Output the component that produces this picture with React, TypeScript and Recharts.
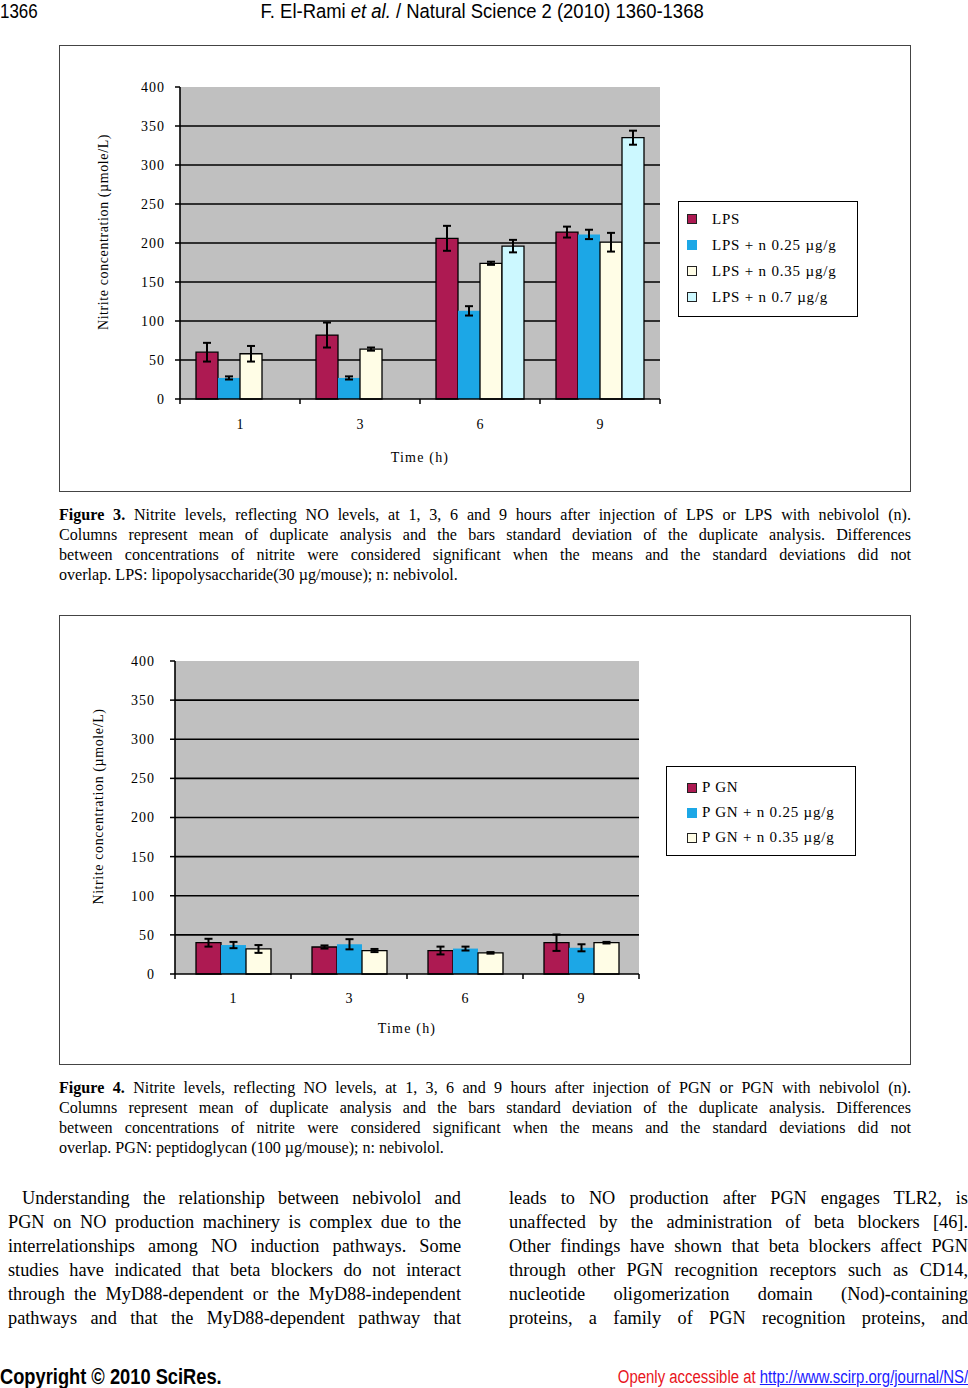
import React from "react";
import { BarChart, Bar, XAxis, YAxis, CartesianGrid, ErrorBar, Legend } from "recharts";

const times = ["1", "3", "6", "9"];
const yTicks = [0, 50, 100, 150, 200, 250, 300, 350, 400];
const gridLines = [50, 100, 150, 200, 250, 300, 350];

// Figure 3: LPS alone or with nebivolol
const lps = [60, 82, 206, 214];
const lpsErr = [12, 16, 16, 7];
const lps025 = [27, 27, 113, 211];
const lps025Err = [2, 2, 6, 6];
const lps035 = [58, 64, 174, 201];
const lps035Err = [10, 2, 2, 12];
const lps07 = [null, null, 196, 335];
const lps07Err = [null, null, 8, 9];

// Figure 4: PGN alone or with nebivolol
const pgn = [40, 34.5, 30, 40];
const pgnErr = [5, 2, 5, 10.5];
const pgn025 = [37, 38, 32.5, 33.5];
const pgn025Err = [4, 6.5, 2.5, 4.5];
const pgn035 = [32, 30, 27, 40];
const pgn035Err = [5, 2, 1, 1];

const lpsNames = ["LPS", "LPS + n 0.25 µg/g", "LPS + n 0.35 µg/g", "LPS + n 0.7 µg/g"];
const pgnNames = ["P GN", "P GN + n 0.25 µg/g", "P GN + n 0.35 µg/g"];
const fills = ["#ad1a52", "#1ca7e6", "#fffde6", "#ccf8ff"];
const strokes = ["#000", "none", "#000", "#000"];

const SERIF = "'Liberation Serif', 'Times New Roman', serif";
const SANS = "'Liberation Sans', Arial, sans-serif";

type Row = Record<string, string | number | null>;

function buildRows(vals: (number | null)[][], errs: (number | null)[][]): Row[] {
  return times.map((t, i) => {
    const row: Row = { time: t };
    vals.forEach((v, j) => {
      row[`s${j}`] = v[i];
      row[`e${j}`] = errs[j][i];
    });
    return row;
  });
}

const lpsRows = buildRows([lps, lps025, lps035, lps07], [lpsErr, lps025Err, lps035Err, lps07Err]);
const pgnRows = buildRows([pgn, pgn025, pgn035], [pgnErr, pgn025Err, pgn035Err]);

type Box = { left: number; top: number; w: number; h: number };
type Plot = { x0: number; x1: number; y0: number; y1: number };
type LegendCfg = { left: number; top: number; w: number; h: number; padTop: number; rowH: number; padLeft: number; gap: number };

const Y_AXIS_W = 100;
const X_AXIS_H = 70;

function FigureChart({
  rows,
  names,
  box,
  plot,
  legend,
  barSize,
  tickGap,
  tickBase,
  titleBase,
}: {
  rows: Row[];
  names: string[];
  box: Box;
  plot: Plot;
  legend: LegendCfg;
  barSize: number;
  tickGap: number;
  tickBase: number;
  titleBase: number;
}) {
  const band = (plot.x1 - plot.x0) / times.length;
  const margin = {
    top: plot.y0 - box.top,
    right: box.left + box.w - plot.x1,
    left: plot.x0 - box.left - Y_AXIS_W,
    bottom: box.top + box.h - plot.y1 - X_AXIS_H,
  };

  const XTick = (p: any) => {
    const bx = p.x - band / 2;
    return (
      <g>
        <line x1={bx} x2={bx} y1={p.y} y2={p.y + 5} stroke="#000" strokeWidth={1.5} />
        {p.index === times.length - 1 && (
          <line x1={p.x + band / 2} x2={p.x + band / 2} y1={p.y} y2={p.y + 5} stroke="#000" strokeWidth={1.5} />
        )}
        <text x={p.x} y={p.y + tickBase} textAnchor="middle" fontFamily={SERIF} fontSize={14} fill="#000">
          {p.payload.value}
        </text>
      </g>
    );
  };

  const XTitle = (p: any) => {
    const vb = p.viewBox;
    return (
      <text
        x={vb.x + vb.width / 2}
        y={vb.y + titleBase}
        textAnchor="middle"
        fontFamily={SERIF}
        fontSize={14}
        fill="#000"
        style={{ letterSpacing: 1.2 }}
      >
        Time (h)
      </text>
    );
  };

  const YTitle = (p: any) => {
    const vb = p.viewBox;
    const cx = vb.x + vb.width - 77 + 5;
    const cy = vb.y + vb.height / 2 - 11;
    return (
      <text
        x={cx}
        y={cy}
        transform={`rotate(-90 ${cx} ${cy})`}
        textAnchor="middle"
        fontFamily={SERIF}
        fontSize={14}
        fill="#000"
        style={{ letterSpacing: 0.6 }}
      >
        Nitrite concentration (µmole/L)
      </text>
    );
  };

  const LegendBox = () => (
    <div
      style={{
        width: legend.w,
        height: legend.h,
        boxSizing: "border-box",
        border: "1px solid #000",
        background: "#fff",
        paddingTop: legend.padTop,
        paddingLeft: legend.padLeft,
        fontFamily: SERIF,
        fontSize: 15,
        letterSpacing: 0.8,
        color: "#000",
      }}
    >
      {names.map((n, i) => (
        <div key={n} style={{ display: "flex", alignItems: "center", height: legend.rowH }}>
          <span
            style={{
              display: "inline-block",
              width: 10,
              height: 10,
              boxSizing: "border-box",
              background: fills[i],
              border: strokes[i] === "none" ? "none" : "1.5px solid #222",
              marginRight: legend.gap,
            }}
          />
          <span>{n}</span>
        </div>
      ))}
    </div>
  );

  return (
    <>
      <div
        style={{
          position: "absolute",
          left: box.left,
          top: box.top,
          width: box.w,
          height: box.h,
          boxSizing: "border-box",
          border: "1px solid #444",
        }}
      />
      <div style={{ position: "absolute", left: box.left, top: box.top }}>
        <BarChart width={box.w} height={box.h} data={rows} margin={margin} barGap={0} barSize={barSize}>
          <CartesianGrid
            vertical={false}
            horizontalValues={gridLines}
            fill="#c0c0c0"
            fillOpacity={1}
            stroke="#000"
            strokeWidth={1.6}
          />
          <XAxis
            dataKey="time"
            height={X_AXIS_H}
            axisLine={{ stroke: "#000", strokeWidth: 1.6 }}
            tickLine={false}
            tickSize={0}
            tickMargin={0}
            interval={0}
            tick={<XTick />}
            label={<XTitle />}
          />
          <YAxis
            width={Y_AXIS_W}
            domain={[0, 400]}
            ticks={yTicks}
            interval={0}
            axisLine={{ stroke: "#000", strokeWidth: 1.6 }}
            tickLine={{ stroke: "#000", strokeWidth: 1.5 }}
            tickSize={5}
            tickMargin={tickGap}
            tick={{ fontFamily: SERIF, fontSize: 14, fill: "#000", style: { letterSpacing: 1 } } as any}
            label={<YTitle />}
          />
          <Legend
            layout="vertical"
            align="center"
            verticalAlign="middle"
            content={<LegendBox />}
            wrapperStyle={{ position: "absolute", left: legend.left - box.left, top: legend.top - box.top, width: legend.w, height: legend.h }}
          />
          {names.map((n, i) => (
            <Bar
              key={n}
              dataKey={`s${i}`}
              name={n}
              fill={fills[i]}
              stroke={strokes[i]}
              strokeWidth={1.3}
              isAnimationActive={false}
            >
              <ErrorBar dataKey={`e${i}`} width={4} stroke="#000" strokeWidth={2} direction="y" isAnimationActive={false} />
            </Bar>
          ))}
        </BarChart>
      </div>
    </>
  );
}

// justified text block; each line is set on its own, scaled horizontally when the original face is condensed
const JLines = ({ lines, left, top, width, size, lh, indent = 0, lastJustify = false, scale = 1 }: any) => (
  <div
    style={{
      position: "absolute",
      left,
      top,
      width: width / scale,
      transform: `scaleX(${scale})`,
      transformOrigin: "0 0",
      fontFamily: SERIF,
      fontSize: size,
      lineHeight: `${lh}px`,
      color: "#000",
    }}
  >
    {lines.map((l: any, i: number) => {
      const last = i === lines.length - 1 && !lastJustify;
      return (
        <div
          key={i}
          style={{
            textAlign: last ? "left" : "justify",
            textAlignLast: last ? "left" : "justify",
            paddingLeft: i === 0 ? indent : 0,
          }}
        >
          {l}
        </div>
      );
    })}
  </div>
);

const Squeezed = ({ left, right, top, size, scale, bold, color, children }: any) => (
  <div
    style={{
      position: "absolute",
      left,
      right,
      top,
      fontFamily: SANS,
      fontSize: size,
      fontWeight: bold ? "bold" : "normal",
      lineHeight: "22px",
      color: color || "#000",
      whiteSpace: "nowrap",
      transform: `scaleX(${scale})`,
      transformOrigin: right !== undefined ? "100% 0" : "0 0",
    }}
  >
    {children}
  </div>
);

const cap3 = [
  <>
    <b>Figure 3.</b> Nitrite levels, reflecting NO levels, at 1, 3, 6 and 9 hours after injection of LPS or LPS with nebivolol (n).
  </>,
  "Columns represent mean of duplicate analysis and the bars standard deviation of the duplicate analysis. Differences",
  "between concentrations of nitrite were considered significant when the means and the standard deviations did not",
  "overlap. LPS: lipopolysaccharide(30 µg/mouse); n: nebivolol.",
];

const cap4 = [
  <>
    <b>Figure 4.</b> Nitrite levels, reflecting NO levels, at 1, 3, 6 and 9 hours after injection of PGN or PGN with nebivolol (n).
  </>,
  "Columns represent mean of duplicate analysis and the bars standard deviation of the duplicate analysis. Differences",
  "between concentrations of nitrite were considered significant when the means and the standard deviations did not",
  "overlap. PGN: peptidoglycan (100 µg/mouse); n: nebivolol.",
];

const bodyLeft = [
  "Understanding the relationship between nebivolol and",
  "PGN on NO production machinery is complex due to the",
  "interrelationships among NO induction pathways. Some",
  "studies have indicated that beta blockers do not interact",
  "through the MyD88-dependent or the MyD88-independent",
  "pathways and that the MyD88-dependent pathway that",
];

const bodyRight = [
  "leads to NO production after PGN engages TLR2, is",
  "unaffected by the administration of beta blockers [46].",
  "Other findings have shown that beta blockers affect PGN",
  "through other PGN recognition receptors such as CD14,",
  "nucleotide oligomerization domain (Nod)-containing",
  "proteins, a family of PGN recognition proteins, and",
];

export default function App() {
  return (
    <div style={{ position: "absolute", left: 0, top: 0, width: 968, height: 1388, background: "#fff", overflow: "hidden" }}>
      <Squeezed left={0} top={0} size={19.5} scale={0.87}>
        1366
      </Squeezed>
      <div style={{ position: "absolute", left: 0, top: 0, width: 964, display: "flex", justifyContent: "center" }}>
        <div
          style={{
            fontFamily: SANS,
            fontSize: 20.5,
            lineHeight: "22px",
            whiteSpace: "nowrap",
            transform: "scaleX(0.9)",
            transformOrigin: "50% 0",
          }}
        >
          F. El-Rami <i>et al.</i> / Natural Science 2 (2010) 1360-1368
        </div>
      </div>

      <FigureChart
        rows={lpsRows}
        names={lpsNames}
        box={{ left: 59, top: 45, w: 852, h: 447 }}
        plot={{ x0: 180, x1: 660, y0: 87, y1: 399 }}
        legend={{ left: 678, top: 201, w: 180, h: 116, padTop: 4, rowH: 26, padLeft: 8, gap: 15 }}
        barSize={22}
        tickGap={10}
        tickBase={30}
        titleBase={63}
      />
      <JLines lines={cap3} left={59} top={504} width={852} size={17.5} lh={20} scale={0.92} />

      <FigureChart
        rows={pgnRows}
        names={pgnNames}
        box={{ left: 59, top: 615, w: 852, h: 450 }}
        plot={{ x0: 175, x1: 639, y0: 661, y1: 974 }}
        legend={{ left: 666, top: 766, w: 190, h: 90, padTop: 8, rowH: 25, padLeft: 20, gap: 5 }}
        barSize={25}
        tickGap={15}
        tickBase={29}
        titleBase={59}
      />
      <JLines lines={cap4} left={59} top={1077} width={852} size={17.5} lh={20} scale={0.92} />

      <JLines lines={bodyLeft} left={8} top={1186} width={453} size={18.3} lh={24} indent={14} lastJustify />
      <JLines lines={bodyRight} left={509} top={1186} width={459} size={18.3} lh={24} lastJustify />

      <Squeezed left={0} top={1366} size={21.5} scale={0.85} bold>
        Copyright © 2010 SciRes.
      </Squeezed>
      <Squeezed right={0} top={1366} size={18} scale={0.83} color="#e8141c">
        Openly accessible at{" "}
        <span style={{ color: "#1a1aff", textDecoration: "underline" }}>http://www.scirp.org/journal/NS/</span>
      </Squeezed>
    </div>
  );
}
